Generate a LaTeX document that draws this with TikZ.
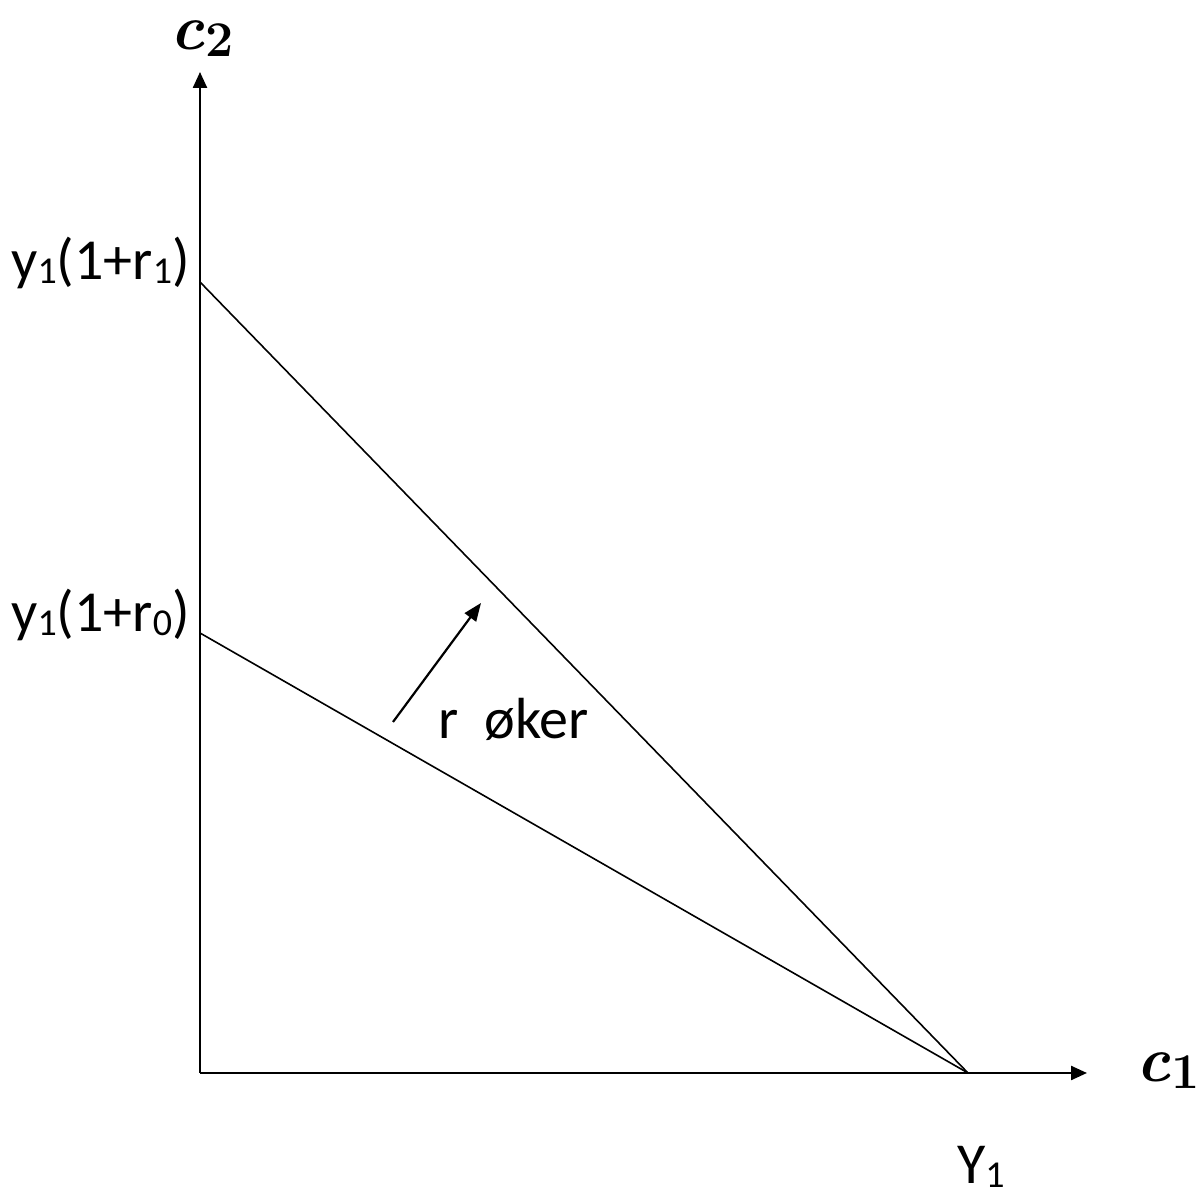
\documentclass[tikz,border=0pt]{standalone}
\usepackage{fontspec}
\setmainfont{Carlito}
\newfontfamily\lmfont{Latin Modern Roman}
\usetikzlibrary{arrows.meta}
\newcommand{\lsub}[1]{\raisebox{-4pt}{\fontsize{38}{40}\selectfont #1}}
\newcommand{\varlbl}[2]{{\lmfont\fontsize{64}{72}\selectfont\bfseries\itshape #1}\kern1pt\raisebox{-7pt}{\lmfont\fontsize{50}{54}\selectfont\bfseries #2}}
\tikzset{
  axis/.style={line width=2.4pt,-{Triangle[length=16pt,width=14pt]}},
  budget/.style={line width=1.6pt},
  shiftarrow/.style={line width=2.2pt,-{Triangle[length=18pt,width=14pt]}},
  lbl/.style={font=\fontsize{58}{66}\selectfont, inner sep=0pt},
  axlbl/.style={inner sep=0pt}
}
\begin{document}
\begin{tikzpicture}[x=1pt,y=1pt]
\useasboundingbox (0,0) rectangle (1203,1200);
\coordinate (O) at (200,127);
\coordinate (ytop) at (200,1128);
\coordinate (xend) at (1087,127);
\coordinate (A) at (200,918);
\coordinate (B) at (200,567);
\coordinate (Yp) at (968,127);
\coordinate (tail) at (393,478);
\coordinate (tip) at (481,597);
\draw[axis] (O) -- (ytop);
\draw[axis] (O) -- (xend);
\draw[budget] (A) -- (Yp);
\draw[budget] (B) -- (Yp);
\draw[shiftarrow] (tail) -- (tip);
\node[lbl, anchor=base east] (l1) at (190,920) {y\lsub{1}(1+r\lsub{1})};
\node[lbl, anchor=base east] (l0) at (190,568) {y\lsub{1}(1+r\lsub{0})};
\node[lbl, anchor=base west] (rok) at (438,461) {r\hspace{26pt}øker};
\node[lbl, anchor=base west] (Y1) at (957,16) {Y\lsub{1}};
\node[axlbl, anchor=base west] (c2) at (170,1150) {\varlbl{c}{2}};
\node[axlbl, anchor=base west] (c1) at (1136,118) {\varlbl{c}{1}};
\end{tikzpicture}
\end{document}
